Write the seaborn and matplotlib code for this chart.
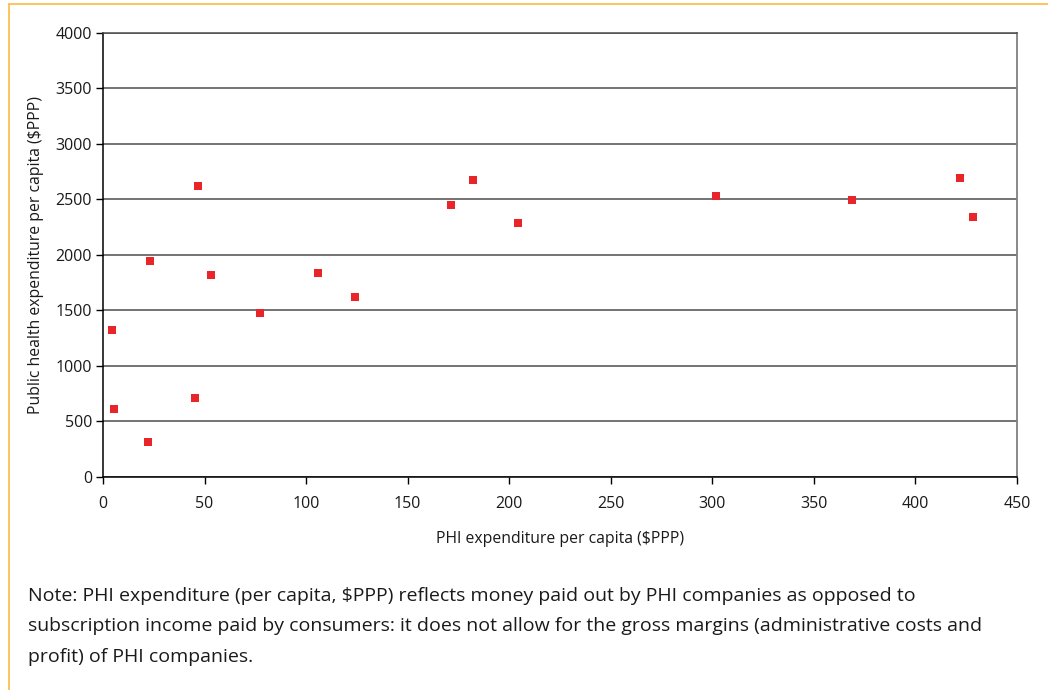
import matplotlib
matplotlib.use("Agg")
import matplotlib.pyplot as plt
from matplotlib.lines import Line2D
import seaborn as sns
import pandas as pd

# PHI vs public health expenditure per capita ($PPP)
phi_spend = [4.3, 5.3, 22.0, 23.1, 45.3, 46.9, 53.3, 77.3, 105.9, 124.2,
             171.2, 182.0, 204.2, 302.0, 369.0, 422.0, 428.2]
public_spend = [1318, 610, 315, 1946, 712, 2624, 1820, 1479, 1836, 1617,
                2452, 2671, 2284, 2527, 2494, 2695, 2338]

x_ticks = [0, 50, 100, 150, 200, 250, 300, 350, 400, 450]
y_ticks = [0, 500, 1000, 1500, 2000, 2500, 3000, 3500, 4000]

note = ("Note: PHI expenditure (per capita, $PPP) reflects money paid out by PHI companies as opposed to\n"
        "subscription income paid by consumers: it does not allow for the gross margins (administrative costs and\n"
        "profit) of PHI companies.")

df = pd.DataFrame({"phi": phi_spend, "public": public_spend})

sns.set_theme(style="white")
plt.rcParams["font.family"] = ["Open Sans", "DejaVu Sans"]

fig = plt.figure(figsize=(10.48, 6.90), dpi=100)
ax = fig.add_axes([0.0983, 0.3094, 0.8721, 0.6428])

sns.scatterplot(data=df, x="phi", y="public", ax=ax, marker="s", s=32,
                color="#E8262A", linewidth=0, zorder=3)

ax.set_xlim(0, 450)
ax.set_ylim(0, 4000)
ax.set_xticks(x_ticks)
ax.set_yticks(y_ticks)
ax.set_xticklabels([str(v) for v in x_ticks], fontsize=11.5, color="#1a1a1a")
ax.set_yticklabels([str(v) for v in y_ticks], fontsize=11.5, color="#1a1a1a")

ax.yaxis.grid(True, color="#4d4d4d", linewidth=1.1)
ax.xaxis.grid(False)
ax.set_axisbelow(True)

for side in ("left", "bottom"):
    ax.spines[side].set_color("#000000")
    ax.spines[side].set_linewidth(1.1)
ax.spines["right"].set_color("#808080")
ax.spines["right"].set_linewidth(1.3)
ax.spines["top"].set_color("#4d4d4d")
ax.spines["top"].set_linewidth(1.1)

ax.tick_params(axis="both", which="major", direction="out", length=5,
               width=1, color="#000000", left=True, bottom=True, pad=3)
ax.tick_params(axis="x", pad=9)

ax.set_xlabel("PHI expenditure per capita ($PPP)", fontsize=11.3, color="#1a1a1a",
              labelpad=14)
ax.set_ylabel("Public health expenditure per capita ($PPP)", fontsize=11.3,
              color="#1a1a1a", labelpad=8)

# Frame lines of the page box
frame_color = "#FDBE4F"
fig.add_artist(Line2D([9 / 1048, 1.0], [1 - 4 / 690, 1 - 4 / 690],
                      transform=fig.transFigure, color=frame_color, linewidth=1.3))
fig.add_artist(Line2D([9 / 1048, 9 / 1048], [0.0, 1 - 4 / 690],
                      transform=fig.transFigure, color=frame_color, linewidth=1.3))

fig.text(28 / 1048, 1 - 587 / 690, note, ha="left", va="top", fontsize=14.0,
         color="#1a1a1a", linespacing=1.88)

fig.savefig("out.png", dpi=100, facecolor="white")
